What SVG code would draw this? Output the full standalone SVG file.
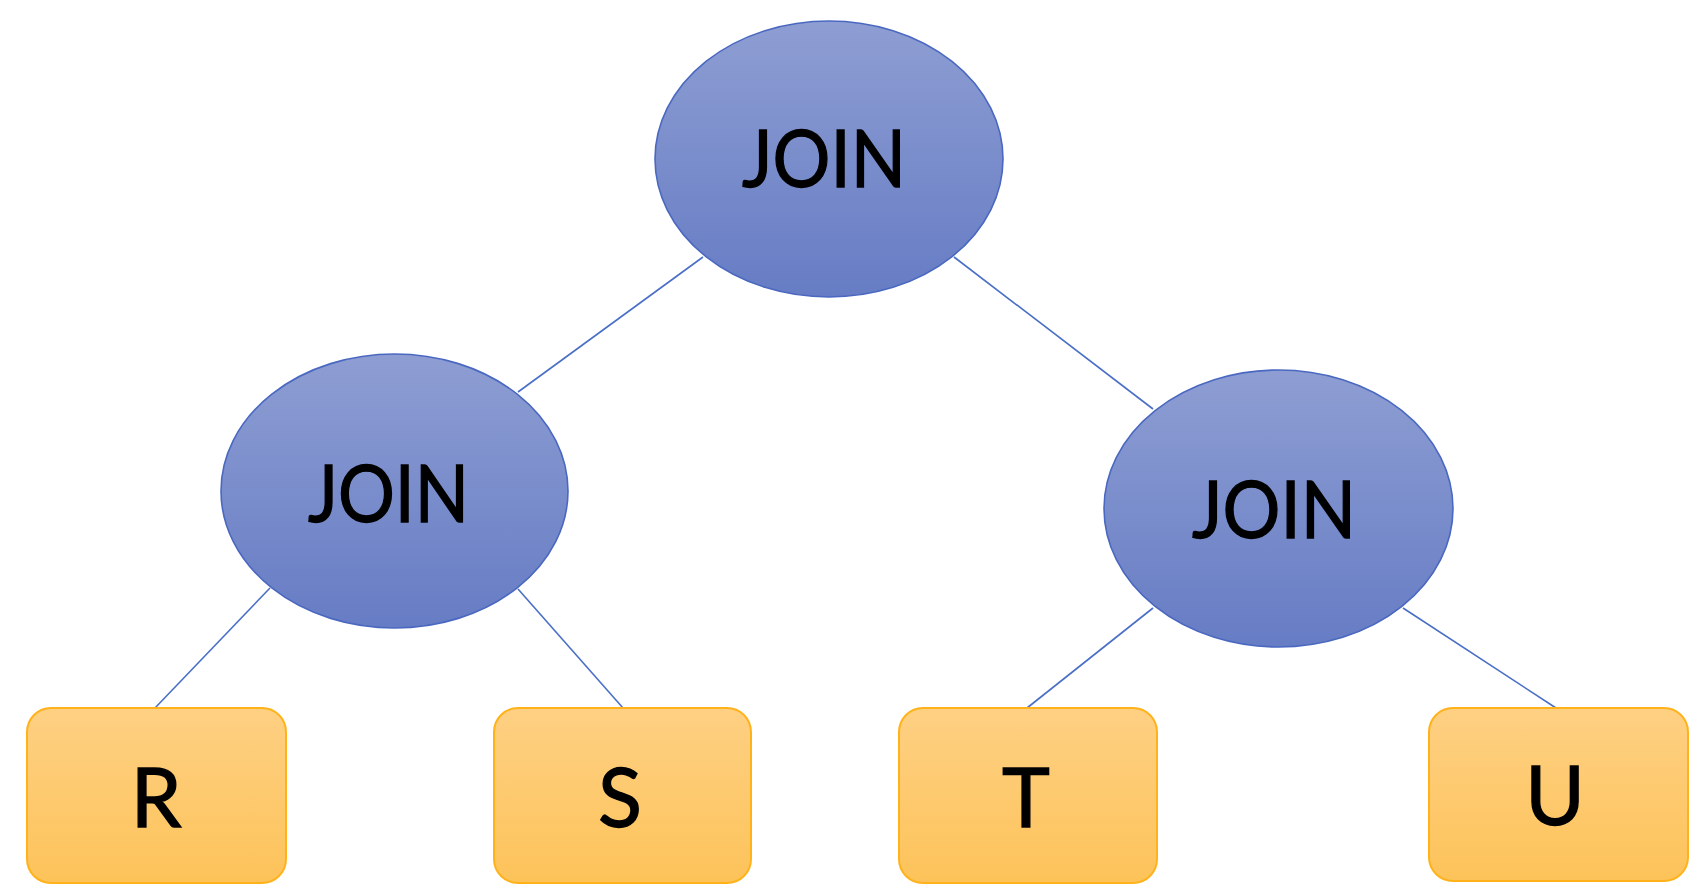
<svg xmlns="http://www.w3.org/2000/svg" width="1706" height="894" viewBox="0 0 1706 894">
<defs>
<linearGradient id="gBlue" x1="0" y1="0" x2="0" y2="1">
<stop offset="0" stop-color="#8E9ED3"/>
<stop offset="1" stop-color="#667CC4"/>
</linearGradient>
<linearGradient id="gOrange" x1="0" y1="0" x2="0" y2="1">
<stop offset="0" stop-color="#FED083"/>
<stop offset="1" stop-color="#FDC35A"/>
</linearGradient>
</defs>
<style>
.join ellipse { fill: url(#gBlue); stroke: #4A68C0; stroke-width: 1.6; }
.leaf rect { fill: url(#gOrange); stroke: #FFB21A; stroke-width: 2; }
.lbl { font-family: Lato, "Open Sans", "Liberation Sans", sans-serif; fill: #000; stroke: #000; stroke-width: 1.3; text-anchor: middle; }
.jl { font-size: 79px; }
.ll { font-size: 81px; }
#connectors line { stroke: #4A6FC6; stroke-width: 1.6; }
</style>
<rect width="1706" height="894" fill="#FFFFFF"/>
<g id="connectors">
<line x1="703" y1="257" x2="518" y2="392"/>
<line x1="954" y1="257" x2="1153" y2="409"/>
<line x1="270" y1="588" x2="155" y2="708"/>
<line x1="518" y1="589" x2="623" y2="708"/>
<line x1="1153" y1="608" x2="1027" y2="708"/>
<line x1="1403" y1="608" x2="1556" y2="708"/>
</g>
<g id="join-root" class="join">
<ellipse cx="829" cy="159" rx="174" ry="138"/>
<text class="lbl jl" x="824" y="187" textLength="164" lengthAdjust="spacingAndGlyphs">JOIN</text>
</g>
<g id="join-left" class="join">
<ellipse cx="394.5" cy="491" rx="173.5" ry="137"/>
<text class="lbl jl" x="388.5" y="522" textLength="161" lengthAdjust="spacingAndGlyphs">JOIN</text>
</g>
<g id="join-right" class="join">
<ellipse cx="1278.5" cy="508.5" rx="174.5" ry="138.5"/>
<text class="lbl jl" x="1274" y="538" textLength="164" lengthAdjust="spacingAndGlyphs">JOIN</text>
</g>
<g id="leaf-R" class="leaf">
<rect x="27" y="708" width="259" height="175" rx="24" ry="24"/>
<text class="lbl ll" x="156" y="827">R</text>
</g>
<g id="leaf-S" class="leaf">
<rect x="494" y="708" width="257" height="175" rx="24" ry="24"/>
<text class="lbl ll" x="620" y="827">S</text>
</g>
<g id="leaf-T" class="leaf">
<rect x="899" y="708" width="258" height="175" rx="24" ry="24"/>
<text class="lbl ll" x="1026" y="827">T</text>
</g>
<g id="leaf-U" class="leaf">
<rect x="1429" y="708" width="259" height="173" rx="24" ry="24"/>
<text class="lbl ll" x="1555" y="825">U</text>
</g>
</svg>
